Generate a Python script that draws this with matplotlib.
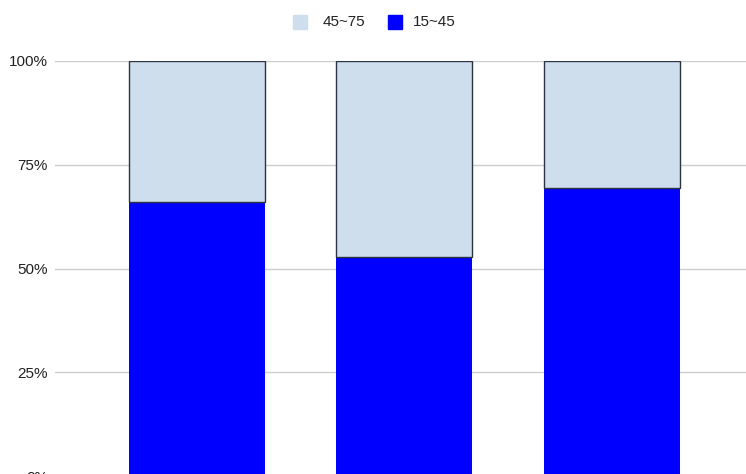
import matplotlib.pyplot as plt
import numpy as np
from matplotlib.patches import Rectangle

plt.rcParams['font.family'] = ['Liberation Sans', 'DejaVu Sans']

# data (share of each group, per bar)
categories = ['A', 'B', 'C']
low_15_45 = [0.66, 0.527, 0.694]
high_45_75 = [1 - v for v in low_15_45]
series_names = ['45~75', '15~45']
series_colors = ['#cfdeed', '#0000ff']
yticks = [0, 0.25, 0.5, 0.75, 1.0]
ytick_labels = ['0%', '25%', '50%', '75%', '100%']

W, H = 746, 474
fig = plt.figure(figsize=(W / 100, H / 100), dpi=100)
ax = fig.add_axes([55 / W, -2 / H, 691 / W, 415 / H])

x = np.arange(len(categories))
w = 0.655
ax.bar(x, low_15_45, w, color=series_colors[1], zorder=3)
ax.bar(x, high_45_75, w, bottom=low_15_45, color=series_colors[0],
       edgecolor='#2b3440', linewidth=1, zorder=3)

ax.set_xlim(-0.684, 2.646)
ax.set_ylim(0, 1)
ax.set_yticks(yticks)
ax.set_yticklabels(ytick_labels, fontsize=11, color='#222222')
ax.set_xticks([])
ax.tick_params(axis='y', length=0, pad=5)
ax.grid(axis='y', color='#cccccc', linewidth=1, zorder=0)
for s in ax.spines.values():
    s.set_visible(False)

# legend at top
for (sx, tx), name, col in zip([(293, 323), (388, 413)], series_names, series_colors):
    fig.patches.append(Rectangle((sx / W, 1 - 29 / H), 14 / W, 14 / H,
                                 transform=fig.transFigure, color=col))
    fig.text(tx / W, 1 - 22 / H, name, fontsize=11, color='#222222', va='center')

fig.savefig('out.png', dpi=100)
